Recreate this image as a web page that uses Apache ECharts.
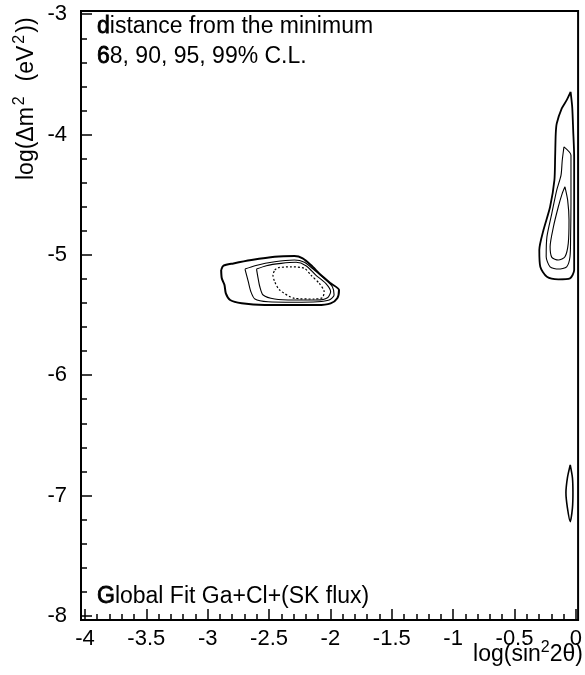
<!DOCTYPE html>
<html>
<head>
<meta charset="utf-8">
<script src="https://cdn.jsdelivr.net/npm/echarts@6/dist/echarts.min.js"></script>
<style>
  html, body { margin: 0; padding: 0; background: #fff; }
  #chart { width: 585px; height: 675px; }
</style>
</head>
<body>
<div id="chart"></div>
<script>
// Axis ticks (log10 scale values)
const xMajorTicks = [-4, -3.5, -3, -2.5, -2, -1.5, -1, -0.5, 0];
const yMajorTicks = [-8, -7, -6, -5, -4, -3];
const xMinorStep = 0.1;
const yMinorStep = 0.2;

// Contours of the distance from the minimum: LMA island near sin^2 2θ ~ 10^-2.3
const island99 = [[-2.890,-5.126],[-2.871,-5.090],[-2.790,-5.071],[-2.643,-5.043],[-2.454,-5.016],[-2.293,-5.010],[-2.226,-5.029],[-2.159,-5.085],[-2.078,-5.168],[-1.998,-5.237],[-1.930,-5.292],[-1.944,-5.361],[-1.998,-5.403],[-2.105,-5.417],[-2.320,-5.417],[-2.535,-5.417],[-2.723,-5.403],[-2.817,-5.375],[-2.852,-5.320],[-2.863,-5.251],[-2.885,-5.195],[-2.890,-5.126]];
const island95 = [[-2.696,-5.118],[-2.615,-5.090],[-2.454,-5.057],[-2.293,-5.043],[-2.212,-5.062],[-2.131,-5.126],[-2.051,-5.195],[-1.984,-5.265],[-1.970,-5.334],[-2.010,-5.375],[-2.105,-5.390],[-2.293,-5.394],[-2.508,-5.390],[-2.615,-5.367],[-2.648,-5.306],[-2.669,-5.223],[-2.683,-5.168],[-2.696,-5.118]];
const island90 = [[-2.602,-5.118],[-2.522,-5.090],[-2.401,-5.071],[-2.280,-5.062],[-2.199,-5.090],[-2.119,-5.168],[-2.038,-5.237],[-1.998,-5.306],[-2.024,-5.356],[-2.105,-5.375],[-2.293,-5.375],[-2.454,-5.367],[-2.548,-5.334],[-2.575,-5.265],[-2.589,-5.195],[-2.602,-5.118]];
const island68 = [[-2.454,-5.126],[-2.427,-5.107],[-2.320,-5.099],[-2.212,-5.112],[-2.159,-5.168],[-2.091,-5.237],[-2.051,-5.306],[-2.065,-5.356],[-2.131,-5.367],[-2.293,-5.361],[-2.414,-5.292],[-2.454,-5.223],[-2.468,-5.168],[-2.454,-5.126]];

// Large-angle strip near maximal mixing
const strip99 = [[-0.043,-3.645],[-0.075,-3.714],[-0.115,-3.783],[-0.156,-3.908],[-0.164,-3.991],[-0.169,-4.185],[-0.175,-4.379],[-0.210,-4.600],[-0.264,-4.794],[-0.298,-4.960],[-0.290,-5.099],[-0.236,-5.182],[-0.143,-5.203],[-0.048,-5.195],[-0.014,-5.126],[-0.014,-4.850],[-0.014,-4.572],[-0.014,-4.185],[-0.022,-3.963],[-0.030,-3.770],[-0.043,-3.645]];
const strip95 = [[-0.097,-4.102],[-0.040,-4.171],[-0.040,-4.296],[-0.040,-4.572],[-0.043,-4.850],[-0.048,-5.016],[-0.075,-5.099],[-0.143,-5.118],[-0.210,-5.099],[-0.242,-5.016],[-0.236,-4.850],[-0.196,-4.655],[-0.156,-4.462],[-0.121,-4.337],[-0.111,-4.213],[-0.097,-4.102]];
const strip90 = [[-0.089,-4.434],[-0.067,-4.545],[-0.056,-4.711],[-0.062,-4.904],[-0.089,-5.016],[-0.143,-5.043],[-0.196,-5.021],[-0.210,-4.933],[-0.183,-4.767],[-0.143,-4.600],[-0.111,-4.489],[-0.089,-4.434]];

// Small low-Δm² island near maximal mixing
const lowIsland = [[-0.046,-6.746],[-0.069,-6.854],[-0.081,-6.978],[-0.069,-7.103],[-0.046,-7.217],[-0.028,-7.103],[-0.024,-6.978],[-0.028,-6.854],[-0.046,-6.746]];

const FONT = '"Liberation Sans", Arial, Helvetica, sans-serif';

function steps(from, to, step) {
  const out = [];
  const n = Math.round((to - from) / step);
  for (let i = 0; i <= n; i++) out.push(+(from + i * step).toFixed(3));
  return out;
}
const xMinorTicks = steps(-4, 0, xMinorStep);
const yMinorTicks = steps(-8, -3, yMinorStep);

const X_MIN = -4.032, X_MAX = 0.018;
const Y_MIN = -8.035, Y_MAX = -2.973;

function contour(data, width, type) {
  return {
    type: 'line',
    data: data,
    showSymbol: false,
    smooth: 0.25,
    silent: true,
    lineStyle: { color: '#000', width: width, type: type || 'solid' }
  };
}

const chart = echarts.init(document.getElementById('chart'), null, { renderer: 'canvas' });

const tickStyle = { color: '#000', width: 1.5 };
// first glyph of each caption is drawn slightly heavier
const heavy = { fontFamily: FONT, fill: '#000', stroke: '#000', lineWidth: 0.8 };

chart.setOption({
  animation: false,
  backgroundColor: '#fff',
  grid: {
    left: 81, right: 1, top: 11, bottom: 55,
    show: true, borderColor: '#000', borderWidth: 2, backgroundColor: 'transparent'
  },
  xAxis: [
    {
      type: 'value', min: X_MIN, max: X_MAX, position: 'bottom',
      axisLine: { show: true, onZero: false, lineStyle: { color: '#000', width: 2 } },
      splitLine: { show: false },
      axisTick: { show: true, inside: true, length: 11, customValues: xMajorTicks, lineStyle: tickStyle },
      axisLabel: {
        show: true, customValues: xMajorTicks, margin: 8,
        color: '#000', fontSize: 22, fontFamily: FONT,
        formatter: v => String(v)
      }
    },
    {
      type: 'value', min: X_MIN, max: X_MAX, position: 'bottom',
      axisLine: { show: false, onZero: false },
      splitLine: { show: false },
      axisTick: { show: true, inside: true, length: 6, customValues: xMinorTicks, lineStyle: tickStyle },
      axisLabel: { show: false }
    }
  ],
  yAxis: [
    {
      type: 'value', min: Y_MIN, max: Y_MAX, position: 'left',
      axisLine: { show: true, onZero: false, lineStyle: { color: '#000', width: 2 } },
      splitLine: { show: false },
      axisTick: { show: true, inside: true, length: 11, customValues: yMajorTicks, lineStyle: tickStyle },
      axisLabel: {
        show: true, customValues: yMajorTicks, margin: 14,
        color: '#000', fontSize: 22, fontFamily: FONT,
        padding: [4, 0, 0, 0],
        formatter: v => String(v)
      }
    },
    {
      type: 'value', min: Y_MIN, max: Y_MAX, position: 'left',
      axisLine: { show: false, onZero: false },
      splitLine: { show: false },
      axisTick: { show: true, inside: true, length: 6, customValues: yMinorTicks, lineStyle: tickStyle },
      axisLabel: { show: false }
    }
  ],
  series: [
    contour(island99, 2),
    contour(island95, 1.1),
    contour(island90, 1.1),
    contour(island68, 1.2, [2, 2]),
    contour(strip99, 1.8),
    contour(strip95, 1.1),
    contour(strip90, 1.1),
    contour(lowIsland, 1.6)
  ],
  graphic: [
    {
      type: 'text', x: 97, y: 27,
      style: {
        text: '{b|d}{n|istance from the minimum}',
        fontSize: 23, fontFamily: FONT, fill: '#000', verticalAlign: 'middle',
        rich: {
          b: Object.assign({ fontSize: 23 }, heavy),
          n: { fontSize: 23, fontFamily: FONT, fill: '#000' }
        }
      }
    },
    {
      type: 'text', x: 97, y: 57,
      style: {
        text: '{b|6}{n|8, 90, 95, 99% C.L.}',
        fontSize: 23, fontFamily: FONT, fill: '#000', verticalAlign: 'middle',
        rich: {
          b: Object.assign({ fontSize: 23 }, heavy),
          n: { fontSize: 23, fontFamily: FONT, fill: '#000' }
        }
      }
    },
    {
      type: 'text', x: 97, y: 597,
      style: {
        text: '{b|G}{n|lobal Fit Ga+Cl+(SK flux)}',
        fontSize: 23, fontFamily: FONT, fill: '#000', verticalAlign: 'middle',
        rich: {
          b: Object.assign({ fontSize: 23 }, heavy),
          n: { fontSize: 23, fontFamily: FONT, fill: '#000' }
        }
      }
    },
    {
      type: 'text', x: 583, y: 655,
      style: {
        text: '{n|log(sin}{s|2}{n|2θ)}',
        fill: '#000', align: 'right', verticalAlign: 'middle',
        rich: {
          n: { fontSize: 23, fontFamily: FONT, fill: '#000' },
          s: { fontSize: 16, fontFamily: FONT, fill: '#000', padding: [0, 0, 14, 0] }
        }
      }
    },
    {
      type: 'text', x: 27, y: 180, rotation: Math.PI / 2,
      style: {
        text: '{n|log(Δm}{s|2}{n|  (eV}{s|2}{n|))}',
        fill: '#000', align: 'left', verticalAlign: 'middle',
        rich: {
          n: { fontSize: 23, fontFamily: FONT, fill: '#000' },
          s: { fontSize: 16, fontFamily: FONT, fill: '#000', padding: [0, 2, 14, 2] }
        }
      }
    }
  ]
});
</script>
</body>
</html>
